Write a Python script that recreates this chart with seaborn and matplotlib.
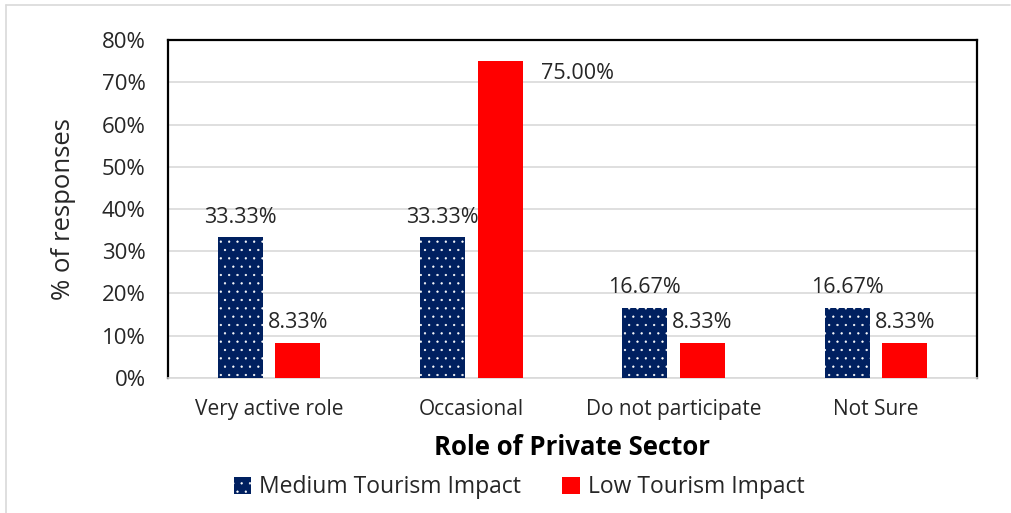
import matplotlib
matplotlib.use("Agg")
import matplotlib.pyplot as plt
from matplotlib.lines import Line2D
from matplotlib.patches import Patch
import pandas as pd
import seaborn as sns

categories = ["Very active role", "Occasional", "Do not participate", "Not Sure"]
medium_impact = [33.33, 33.33, 16.67, 16.67]
low_impact = [8.33, 75.00, 8.33, 8.33]
series_names = ["Medium Tourism Impact", "Low Tourism Impact"]
y_ticks = [0, 10, 20, 30, 40, 50, 60, 70, 80]

sns.set_theme(style="white")
plt.rcParams["font.family"] = ["Open Sans", "DejaVu Sans"]
plt.rcParams["hatch.linewidth"] = 0.4

df = pd.DataFrame({
    "Role": categories * 2,
    "Share": medium_impact + low_impact,
    "Series": [series_names[0]] * len(categories) + [series_names[1]] * len(categories),
})

navy = "#002060"
red = "#FF0000"
text_color = "#262626"

fig = plt.figure(figsize=(10.12, 5.13), dpi=100)
ax = fig.add_axes([0.166, 0.2632, 0.7994, 0.6588])

sns.barplot(data=df, x="Role", y="Share", hue="Series", order=categories,
            hue_order=series_names, palette=[navy, red], saturation=1,
            width=0.57, gap=0.22, errorbar=None, legend=False, ax=ax, zorder=3)

# dotted fill for the medium-impact bars
n = len(categories)
med_bars = ax.patches[:n]
low_bars = ax.patches[n:2 * n]
for b in med_bars:
    b.set_hatch("..")
    b.set_edgecolor("white")
    b.set_linewidth(0)
for b in low_bars:
    b.set_edgecolor(red)
    b.set_linewidth(0)

ax.set_ylim(0, 80)
ax.set_yticks(y_ticks)
ax.set_yticklabels([f"{t}%" for t in y_ticks])
ax.set_xlim(-0.5, n - 0.5)
ax.yaxis.grid(True, color="#D9D9D9", linewidth=1.2, zorder=0)
ax.set_axisbelow(True)

for side in ["left", "top", "right"]:
    ax.spines[side].set_color("black")
    ax.spines[side].set_linewidth(1.6)
    ax.spines[side].set_visible(True)
ax.spines["bottom"].set_color("#D9D9D9")
ax.spines["bottom"].set_linewidth(1.2)

ax.tick_params(axis="y", length=0, labelsize=16, colors=text_color, pad=16)
ax.tick_params(axis="x", length=0, labelsize=15, colors=text_color, pad=15)
ax.set_xlabel("Role of Private Sector", fontsize=18.5, fontweight="bold",
              color="black", labelpad=10)
ax.set_ylabel("% of responses", fontsize=18.5, color=text_color, labelpad=19)

# value labels
label_size = 15.5
for b, v in zip(med_bars, medium_impact):
    cx = b.get_x() + b.get_width() / 2
    ax.text(cx, v + 2.2, f"{v:.2f}%", ha="center", va="bottom",
            fontsize=label_size, color=text_color)
for b, v in zip(low_bars, low_impact):
    cx = b.get_x() + b.get_width() / 2
    if v > 70:
        ax.text(b.get_x() + b.get_width() + 0.09, v - 3.0, f"{v:.2f}%",
                ha="left", va="center", fontsize=label_size, color=text_color)
    else:
        ax.text(cx, v + 2.2, f"{v:.2f}%", ha="center", va="bottom",
                fontsize=label_size, color=text_color)

handles = [Patch(facecolor=navy, edgecolor="white", hatch="..", linewidth=0),
           Patch(facecolor=red, edgecolor=red, linewidth=0)]
fig.legend(handles, series_names, loc="center", bbox_to_anchor=(0.513, 0.05),
           ncol=2, frameon=False, fontsize=16.5, handlelength=0.75,
           handleheight=0.75, handletextpad=0.35, columnspacing=1.8,
           labelcolor=text_color)

# light frame edges of the chart area
fig.add_artist(Line2D([0.006, 0.006], [0.0, 0.99], color="#D9D9D9", linewidth=1.2))
fig.add_artist(Line2D([0.006, 0.998], [0.99, 0.99], color="#D9D9D9", linewidth=1.2))

fig.savefig("out.png", dpi=100)
